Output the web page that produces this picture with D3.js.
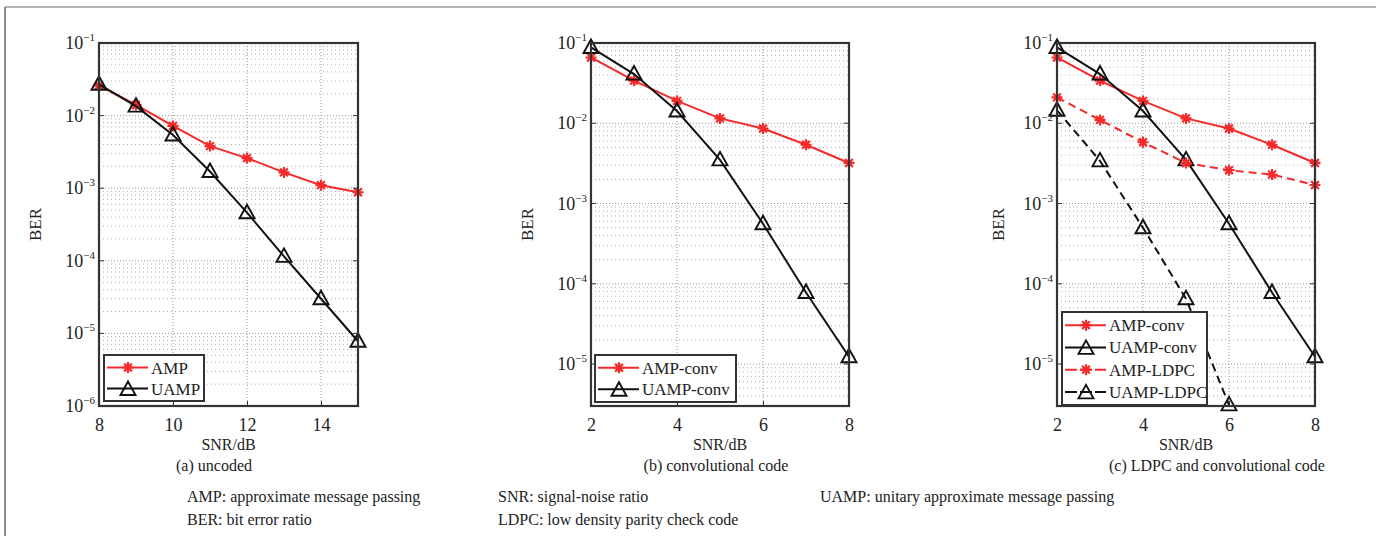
<!DOCTYPE html>
<html>
<head>
<meta charset="utf-8">
<script src="https://cdn.jsdelivr.net/npm/d3@7"></script>
<style>
  body { margin: 0; background: #fff; }
  svg text { font-family: "Liberation Serif", "DejaVu Serif", serif; }
</style>
</head>
<body>
<svg id="chart" width="1376" height="536"></svg>
<script>
// ---- data ----
var snrA = [8, 9, 10, 11, 12, 13, 14, 15];
var ampA = [0.026, 0.014, 0.0072, 0.0038, 0.0026, 0.00165, 0.0011, 0.00088];
var uampA = [0.027, 0.0135, 0.0054, 0.0017, 0.00046, 0.000115, 0.00003, 0.0000078];

var snrB = [2, 3, 4, 5, 6, 7, 8];
var ampConv = [0.066, 0.034, 0.019, 0.0115, 0.0086, 0.0054, 0.0032];
var uampConv = [0.088, 0.041, 0.0142, 0.0035, 0.00056, 0.000078, 0.0000123];

var snrLdpcAmp = [2, 3, 4, 5, 6, 7, 8];
var ampLdpc = [0.021, 0.011, 0.0058, 0.0032, 0.0026, 0.0023, 0.0017];
var snrLdpcUamp = [2, 3, 4, 5, 6];
var uampLdpc = [0.0145, 0.0034, 0.0005, 0.000065, 0.0000031];

var xTicksA = [8, 10, 12, 14];
var xTicksB = [2, 4, 6, 8];
var yTicksA = [-6, -5, -4, -3, -2, -1];
var yTicksB = [-5, -4, -3, -2, -1];

var captions = ["(a) uncoded", "(b) convolutional code", "(c) LDPC and convolutional code"];
var notes = [
  ["AMP: approximate message passing", "BER: bit error ratio"],
  ["SNR: signal-noise ratio", "LDPC: low density parity check code"],
  ["UAMP: unitary approximate message passing"]
];

var RED = "#f52a2a";
var BLACK = "#111";
var FONT = "Liberation Serif, DejaVu Serif, serif";

var svg = d3.select("#chart");

// outer frame (top + left only)
svg.append("line").attr("x1", 5).attr("x2", 1376).attr("y1", 7).attr("y2", 7)
  .attr("stroke", "#666").attr("stroke-width", 1.2);
svg.append("line").attr("x1", 5).attr("x2", 5).attr("y1", 7).attr("y2", 536)
  .attr("stroke", "#666").attr("stroke-width", 1.5);

var starPath = function (r) {
  var p = "";
  for (var i = 0; i < 4; i++) {
    var a = i * Math.PI / 4;
    var dx = r * Math.cos(a), dy = r * Math.sin(a);
    p += "M" + (-dx) + "," + (-dy) + "L" + dx + "," + dy;
  }
  return p;
};
var triPath = "M0,-8L7.5,5.5L-7.5,5.5Z";

var drawMarker = function (g, type, color, x, y) {
  if (type === "star") {
    g.append("path").attr("d", starPath(5.5)).attr("transform", "translate(" + x + "," + y + ")")
      .attr("stroke", color).attr("stroke-width", 2.2).attr("fill", "none");
  } else {
    g.append("path").attr("d", triPath).attr("transform", "translate(" + x + "," + y + ")")
      .attr("stroke", color).attr("stroke-width", 1.9).attr("fill", "none");
  }
};

var txt = function (sel, size) {
  return sel.attr("font-family", FONT).attr("font-size", size).attr("fill", "#222");
};

var panels = [
  {
    left: 99, right: 358, top: 43, bottom: 406,
    xDomain: [8, 15], yDomain: [1e-6, 1e-1], xTicks: xTicksA, yExp: yTicksA,
    berX: 35, caption: captions[0], captionX: 214,
    series: [
      {name: "AMP", x: snrA, y: ampA, color: RED, marker: "star", dash: null},
      {name: "UAMP", x: snrA, y: uampA, color: BLACK, marker: "tri", dash: null}
    ],
    legend: {x: 104, y: 355, w: 100, h: 46}
  },
  {
    left: 591, right: 849, top: 43, bottom: 406,
    xDomain: [2, 8], yDomain: [3e-6, 1e-1], xTicks: xTicksB, yExp: yTicksB,
    berX: 527, caption: captions[1], captionX: 716,
    series: [
      {name: "AMP-conv", x: snrB, y: ampConv, color: RED, marker: "star", dash: null},
      {name: "UAMP-conv", x: snrB, y: uampConv, color: BLACK, marker: "tri", dash: null}
    ],
    legend: {x: 595, y: 355, w: 141, h: 47}
  },
  {
    left: 1057, right: 1315, top: 43, bottom: 406,
    xDomain: [2, 8], yDomain: [3e-6, 1e-1], xTicks: xTicksB, yExp: yTicksB,
    berX: 998, caption: captions[2], captionX: 1217,
    series: [
      {name: "AMP-conv", x: snrB, y: ampConv, color: RED, marker: "star", dash: null},
      {name: "UAMP-conv", x: snrB, y: uampConv, color: BLACK, marker: "tri", dash: null},
      {name: "AMP-LDPC", x: snrLdpcAmp, y: ampLdpc, color: RED, marker: "star", dash: "8,5"},
      {name: "UAMP-LDPC", x: snrLdpcUamp, y: uampLdpc, color: BLACK, marker: "tri", dash: "8,5"}
    ],
    legend: {x: 1062, y: 312, w: 145, h: 93}
  }
];

panels.forEach(function (p) {
  var x = d3.scaleLinear().domain(p.xDomain).range([p.left, p.right]);
  var y = d3.scaleLog().domain(p.yDomain).range([p.bottom, p.top]);
  var g = svg.append("g");

  // minor grid (log)
  var minor = [];
  for (var e = -7; e <= -1; e++) {
    for (var m = 2; m <= 9; m++) {
      var v = m * Math.pow(10, e);
      if (v > p.yDomain[0] && v < p.yDomain[1]) minor.push(v);
    }
  }
  g.selectAll(".minor").data(minor).enter().append("line")
    .attr("x1", p.left).attr("x2", p.right)
    .attr("y1", function (d) { return y(d); }).attr("y2", function (d) { return y(d); })
    .attr("stroke", "#b0b0b0").attr("stroke-width", 1).attr("stroke-dasharray", "1,3");
  // major grid
  g.selectAll(".majY").data(p.yExp).enter().append("line")
    .attr("x1", p.left).attr("x2", p.right)
    .attr("y1", function (d) { return y(Math.pow(10, d)); }).attr("y2", function (d) { return y(Math.pow(10, d)); })
    .attr("stroke", "#999").attr("stroke-width", 1).attr("stroke-dasharray", "1,2");
  g.selectAll(".majX").data(p.xTicks).enter().append("line")
    .attr("y1", p.top).attr("y2", p.bottom)
    .attr("x1", function (d) { return x(d); }).attr("x2", function (d) { return x(d); })
    .attr("stroke", "#999").attr("stroke-width", 1).attr("stroke-dasharray", "1,2");

  // series
  p.series.forEach(function (s) {
    var pts = s.x.map(function (d, i) { return [d, s.y[i]]; });
    var line = d3.line().x(function (d) { return x(d[0]); }).y(function (d) { return y(d[1]); });
    g.append("path").attr("d", line(pts)).attr("fill", "none")
      .attr("stroke", s.color).attr("stroke-width", 2)
      .attr("stroke-dasharray", s.dash);
    pts.forEach(function (d) { drawMarker(g, s.marker, s.color, x(d[0]), y(d[1])); });
  });

  // axes box
  g.append("rect").attr("x", p.left).attr("y", p.top)
    .attr("width", p.right - p.left).attr("height", p.bottom - p.top)
    .attr("fill", "none").attr("stroke", "#333").attr("stroke-width", 2.2);

  // x ticks
  var xAxis = d3.axisBottom(x).tickValues(p.xTicks).tickSize(-5).tickPadding(12).tickFormat(d3.format("d"));
  var gx = g.append("g").attr("transform", "translate(0," + p.bottom + ")").call(xAxis)
    .attr("font-family", FONT);
  gx.select(".domain").remove();
  gx.selectAll("line").attr("stroke", "#333");
  txt(gx.selectAll("text"), 18);

  // y ticks (10^n labels)
  p.yExp.forEach(function (ex) {
    var yy = y(Math.pow(10, ex));
    g.append("line").attr("x1", p.left).attr("x2", p.left + 5).attr("y1", yy).attr("y2", yy).attr("stroke", "#333");
    g.append("line").attr("x1", p.right).attr("x2", p.right - 5).attr("y1", yy).attr("y2", yy).attr("stroke", "#333");
    var t = txt(g.append("text"), 18).attr("x", p.left - 4).attr("y", yy + 6).attr("text-anchor", "end");
    t.append("tspan").text("10");
    t.append("tspan").attr("font-size", 11).attr("dy", -8).text("\u2212" + (-ex));
  });

  // axis labels
  txt(g.append("text"), 17)
    .attr("transform", "translate(" + (p.berX + 6) + "," + ((p.top + p.bottom) / 2) + ") rotate(-90)")
    .attr("text-anchor", "middle").text("BER");
  txt(g.append("text"), 16).attr("x", (p.left + p.right) / 2).attr("y", 450)
    .attr("text-anchor", "middle").text("SNR/dB");
  txt(g.append("text"), 16).attr("x", p.captionX).attr("y", 471)
    .attr("text-anchor", "middle").text(p.caption);

  // legend
  var L = p.legend;
  var lg = g.append("g");
  lg.append("rect").attr("x", L.x).attr("y", L.y).attr("width", L.w).attr("height", L.h)
    .attr("fill", "#fff").attr("stroke", "#333").attr("stroke-width", 2);
  var rowH = (L.h - 4) / p.series.length;
  p.series.forEach(function (s, i) {
    var cy = L.y + 2 + rowH * (i + 0.5);
    lg.append("line").attr("x1", L.x + 3).attr("x2", L.x + 44).attr("y1", cy).attr("y2", cy)
      .attr("stroke", s.color).attr("stroke-width", 2).attr("stroke-dasharray", s.dash ? "12,3" : null);
    drawMarker(lg, s.marker, s.color, L.x + 24, cy + (s.marker === "tri" ? 1 : 0));
    txt(lg.append("text"), 17).attr("x", L.x + 47).attr("y", cy + 6).text(s.name);
  });
});

// footnotes
var noteX = [187, 498, 820];
notes.forEach(function (col, i) {
  col.forEach(function (t, j) {
    txt(svg.append("text"), 16).attr("x", noteX[i]).attr("y", 502 + j * 23).text(t);
  });
});
</script>
</body>
</html>
